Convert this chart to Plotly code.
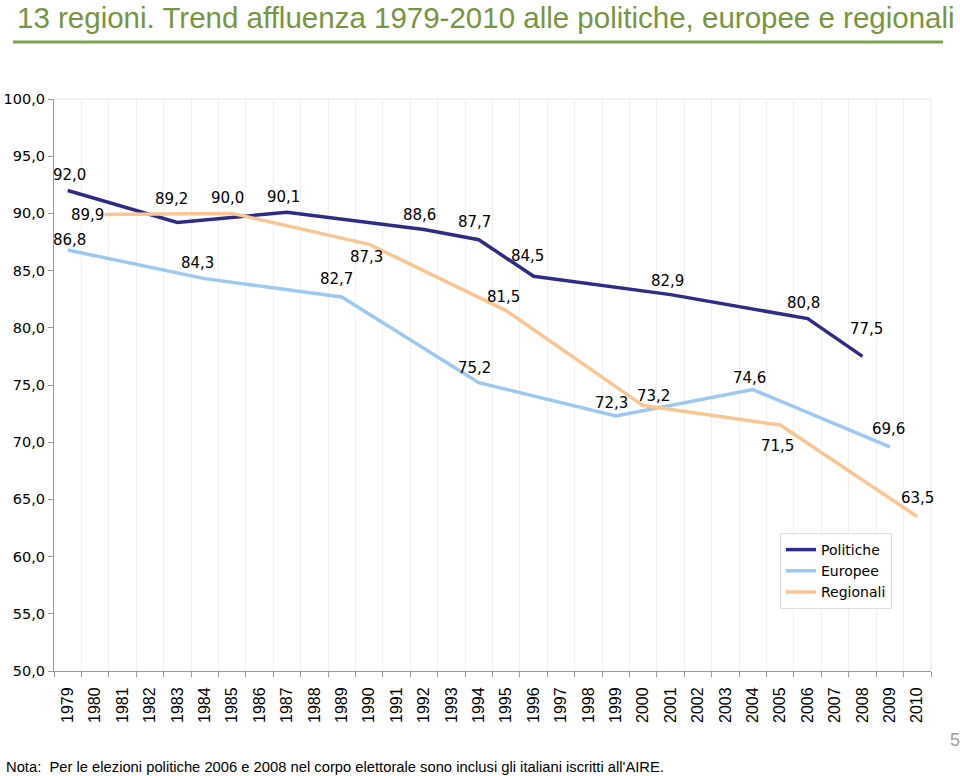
import plotly.graph_objects as go

# ---- data ----
years = list(range(1979, 2011))
pol_years = [1979, 1983, 1987, 1992, 1994, 1996, 2001, 2006, 2008]
pol_vals = [92.0, 89.2, 90.1, 88.6, 87.7, 84.5, 82.9, 80.8, 77.5]
eur_years = [1979, 1984, 1989, 1994, 1999, 2004, 2009]
eur_vals = [86.8, 84.3, 82.7, 75.2, 72.3, 74.6, 69.6]
reg_years = [1980, 1985, 1990, 1995, 2000, 2005, 2010]
reg_vals = [89.9, 90.0, 87.3, 81.5, 73.2, 71.5, 63.5]
series_names = ["Politiche", "Europee", "Regionali"]

# ---- label offsets (px) ----
pol_off = [(2, 16), (-6, 24), (-3, 15), (-4, 14), (-4, 18), (-6, 20), (-3, 14), (-4, 16), (4, 27)]
eur_off = [(2, 10), (-7, 16), (-5, 18), (-4, 15), (-4, 13), (-3, 12), (-1, 18)]
reg_off = [(-8, 0), (-5, 15), (-3, -13), (-3, 14), (10, 10), (-3, -21), (0, 19)]

colors = ["#2F2C85", "#9DC8F0", "#F9C592"]

W, H = 960, 776
L, R, T, B = 54, 29, 99, 105
pw, ph = W - L - R, H - T - B


def px_to_paper(xp, yp):
    return (xp - L) / pw, (H - B - yp) / ph


fig = go.Figure()
for name, xs, ys, col in zip(series_names, [pol_years, eur_years, reg_years],
                             [pol_vals, eur_vals, reg_vals], colors):
    fig.add_trace(go.Scatter(x=xs, y=ys, name=name, mode="lines",
                             line=dict(color=col, width=3.5)))

annotations = []
for si, (xs, ys, offs) in enumerate([(pol_years, pol_vals, pol_off), (eur_years, eur_vals, eur_off),
                                     (reg_years, reg_vals, reg_off)]):
    for i, (x, y, (dx, dy)) in enumerate(zip(xs, ys, offs)):
        a = dict(x=x, y=y, xref="x", yref="y", text=f"{y:.1f}".replace(".", ","),
                 showarrow=False, xshift=dx, yshift=dy, borderpad=0,
                 font=dict(family="DejaVu Sans", size=15, color="#000000"))
        if si == 2 and i == 0:
            a["bgcolor"] = "white"
        annotations.append(a)

tx, ty = px_to_paper(15, 18)
annotations.append(dict(x=tx, y=ty, xref="paper", yref="paper", xanchor="left", yanchor="middle",
                        text="13 regioni. Trend affluenza 1979-2010 alle politiche, europee e regionali",
                        showarrow=False, font=dict(family="Liberation Sans", size=29.5, color="#77953F")))
nx, ny = px_to_paper(4, 767)
annotations.append(dict(x=nx, y=ny, xref="paper", yref="paper", xanchor="left", yanchor="middle",
                        text="Nota:  Per le elezioni politiche 2006 e 2008 nel corpo elettorale sono inclusi gli italiani iscritti all'AIRE.",
                        showarrow=False, font=dict(family="Liberation Sans", size=14.75, color="#000000")))
px5, py5 = px_to_paper(955, 740)
annotations.append(dict(x=px5, y=py5, xref="paper", yref="paper", xanchor="center", yanchor="middle",
                        text="5", showarrow=False,
                        font=dict(family="Liberation Sans", size=18, color="#A0A0A0")))

shapes = [
    dict(type="line", xref="paper", yref="paper",
         x0=px_to_paper(13, 0)[0], x1=px_to_paper(943, 0)[0],
         y0=px_to_paper(0, 42)[1], y1=px_to_paper(0, 42)[1],
         line=dict(color="#7BA34B", width=3)),
    dict(type="line", xref="paper", yref="paper", x0=0, x1=1, y0=1, y1=1,
         line=dict(color="#E6E6E6", width=1)),
    dict(type="line", xref="paper", yref="paper", x0=1, x1=1, y0=0, y1=1,
         line=dict(color="#E6E6E6", width=1)),
]

fig.update_layout(
    width=W, height=H,
    margin=dict(l=L, r=R, t=T, b=B, autoexpand=False),
    paper_bgcolor="white", plot_bgcolor="white",
    separators=",.",
    showlegend=True,
    legend=dict(x=px_to_paper(780, 0)[0], y=px_to_paper(0, 533)[1], xanchor="left", yanchor="top",
                bgcolor="white", bordercolor="#E0E0E0", borderwidth=1,
                font=dict(family="DejaVu Sans", size=14, color="#000000"),
                tracegroupgap=0),
    annotations=annotations,
    shapes=shapes,
    xaxis=dict(range=[1978.5, 2010.5], tickmode="array", tickvals=years,
               ticktext=[str(y) for y in years], tickangle=-90, ticks="",
               showgrid=False, zeroline=False, showline=True, linecolor="#9A9A9A", linewidth=1,
               tickfont=dict(family="Liberation Sans", size=16, color="#000000"),
               ticklabelstandoff=9, automargin=False,
               minor=dict(tickmode="linear", tick0=1978.5, dtick=1, ticks="outside", ticklen=5,
                          tickcolor="#9A9A9A", showgrid=True, gridcolor="#F0F0F0", gridwidth=1)),
    yaxis=dict(range=[50, 100], tickmode="linear", tick0=50, dtick=5, tickformat=".1f",
               ticks="outside", ticklen=5, tickcolor="#9A9A9A", showgrid=False, zeroline=False,
               showline=True, linecolor="#9A9A9A", linewidth=1, automargin=False,
               tickfont=dict(family="DejaVu Sans", size=14.5, color="#000000")),
)

fig.write_html("out.html")
